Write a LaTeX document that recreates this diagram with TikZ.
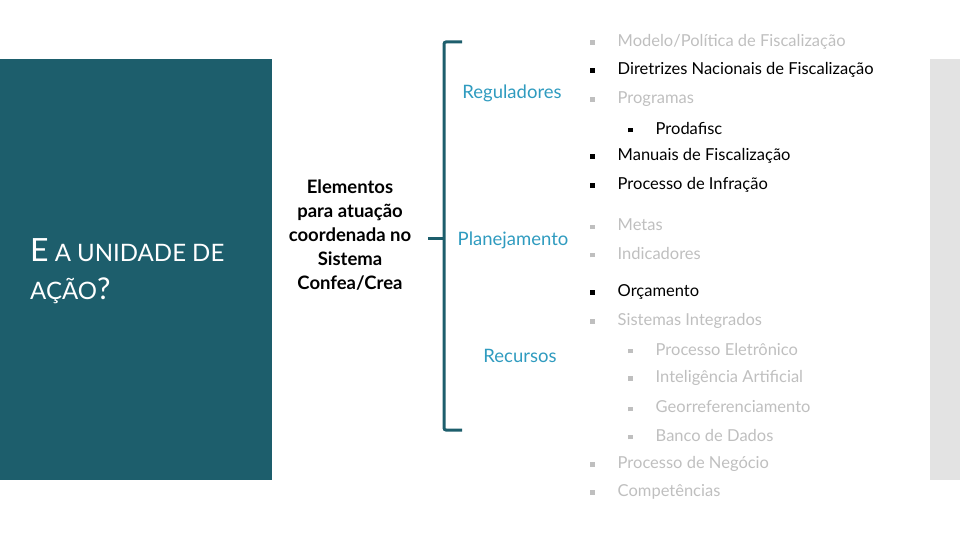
\documentclass[tikz,border=0pt]{standalone}
\usepackage{fontspec}
\setmainfont{Lato}
\usepackage{tikz}
\usetikzlibrary{positioning}
\definecolor{tealbox}{HTML}{1D5E6C}
\definecolor{lightblue}{HTML}{2F9BBF}
\definecolor{greytext}{HTML}{BFBFBF}
\definecolor{greybar}{HTML}{E3E3E3}
\newcommand{\bul}{\rule[0.2ex]{4.5pt}{4.5pt}\hspace{23pt}}
\tikzstyle{item} = [anchor=west, inner sep=0pt, font=\fontsize{16.5}{19}\selectfont]
\tikzstyle{dim} = [item, text=greytext]
\tikzstyle{dark} = [item, text=black]
\tikzstyle{group} = [text=lightblue, font=\fontsize{18.5}{22}\selectfont]
\tikzstyle{bracket} = [line width=3pt, draw=tealbox, rounded corners=2pt]

\begin{document}
\begin{tikzpicture}[x=1pt, y=-1pt]
        \useasboundingbox (0,0) rectangle (960,540);

        % --- Fondos ---
        \fill[tealbox] (0,59) rectangle (272,480);
        \fill[greybar] (930,59) rectangle (960,480);

        % --- Titulo ---
        \node (title) [anchor=west, text=white, align=left, inner sep=0pt,
            font=\fontsize{24}{38}\selectfont] at (30,271)
            {{\fontsize{32}{38}\selectfont E} A UNIDADE DE\\AÇÃO{\fontsize{30}{38}\selectfont ?}};

        % --- Nodo central ---
        \node (elem) [align=center, font=\bfseries\fontsize{18.5}{24}\selectfont] at (350,235)
            {Elementos\\para atuação\\coordenada no\\Sistema\\Confea/Crea};

        % --- Grupos ---
        \node (regul) [group] at (512,93) {Reguladores};
        \node (plan) [group] at (513,240) {Planejamento};
        \node (recur) [group] at (520,356) {Recursos};

        % --- Lista ---
        \node (modelo) [dim] at (590,42) {\bul Modelo/Política de Fiscalização};
        \node (diretr) [dark] at (590,70) {\bul Diretrizes Nacionais de Fiscalização};
        \node (progr) [dim] at (590,99) {\bul Programas};
        \node (prodaf) [dark] at (628,128) {\bul Prodafisc};
        \node (manuais) [dark] at (590,156) {\bul Manuais de Fiscalização};
        \node (infrac) [dark] at (590,185) {\bul Processo de Infração};
        \node (metas) [dim] at (590,225) {\bul Metas};
        \node (indic) [dim] at (590,253) {\bul Indicadores};
        \node (orcam) [dark] at (590,292) {\bul Orçamento};
        \node (sistem) [dim] at (590,321) {\bul Sistemas Integrados};
        \node (eletr) [dim] at (628,349) {\bul Processo Eletrônico};
        \node (intel) [dim] at (628,378) {\bul Inteligência Artificial};
        \node (georef) [dim] at (628,407) {\bul Georreferenciamento};
        \node (banco) [dim] at (628,435) {\bul Banco de Dados};
        \node (negoc) [dim] at (590,464) {\bul Processo de Negócio};
        \node (compet) [dim] at (590,492) {\bul Competências};

        % --- Chave ---
        \coordinate (btop) at (462,42);
        \coordinate (bbot) at (462,430);
        \coordinate (bmid) at (444,238);
        \coordinate (btick) at (428,238);
        \draw [bracket] (btop) -- (444,42) -- (444,430) -- (bbot);
        \draw [bracket] (bmid) -- (btick);

    \end{tikzpicture}
\end{document}
